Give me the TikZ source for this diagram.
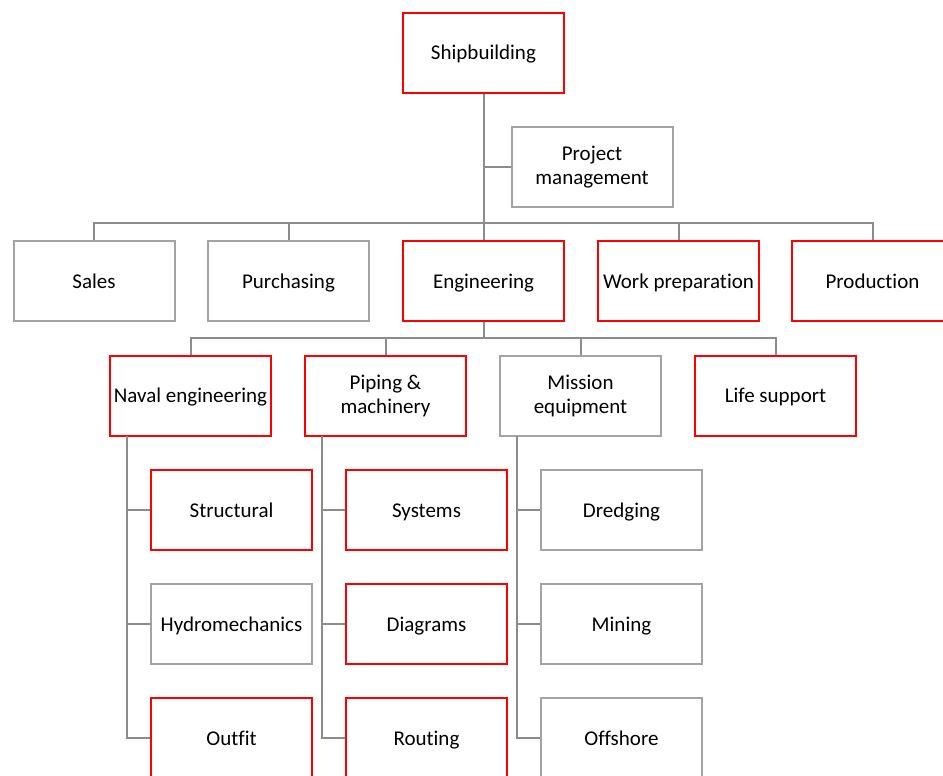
\documentclass[tikz,border=0pt]{standalone}
\usepackage{fontspec}
\setmainfont{Carlito}[Ligatures=NoCommon]
\begin{document}
\begin{tikzpicture}[x=1pt,y=-1pt,
  basebox/.style={draw, line width=2pt, fill=white, minimum width=161pt, minimum height=80pt, inner sep=0pt, align=center, font=\fontsize{21}{24}\selectfont},
  box/.style={basebox, text height=16pt, text depth=2pt},
  rbox/.style={box, draw=red},
  gbox/.style={box, draw=black!36},
  rbox2/.style={basebox, draw=red},
  gbox2/.style={basebox, draw=black!36},
  conn/.style={draw=black!45, line width=2pt}]
\useasboundingbox (0,0) rectangle (943,776);
\clip (0,0) rectangle (943,776);
% top
\node[rbox] (ship) at (483.5,53) {Shipbuilding};
\node[gbox2] (pm) at (592,167) {Project\\management};
% row 2
\node[gbox] (sales) at (94,281) {Sales};
\node[gbox] (purch) at (288.5,281) {Purchasing};
\node[rbox] (eng) at (483.5,281) {Engineering};
\node[rbox] (work) at (678.5,281) {Work preparation};
\node[rbox] (prod) at (872.5,281) {Production};
% row 3
\node[rbox] (naval) at (190.5,395.5) {Naval engineering};
\node[rbox2] (piping) at (385.5,395.5) {Piping \&\\machinery};
\node[gbox2] (mission) at (580.5,395.5) {Mission\\equipment};
\node[rbox] (life) at (775.5,395.5) {Life support};
% subs
\node[rbox] (struct) at (231.5,510) {Structural};
\node[gbox] (hydro) at (231.5,624) {Hydromechanics};
\node[rbox] (outfit) at (231.5,738) {Outfit};
\node[rbox] (systems) at (426.5,510) {Systems};
\node[rbox] (diagrams) at (426.5,624) {Diagrams};
\node[rbox] (routing) at (426.5,738) {Routing};
\node[gbox] (dredging) at (621.5,510) {Dredging};
\node[gbox] (mining) at (621.5,624) {Mining};
\node[gbox] (offshore) at (621.5,738) {Offshore};
% connectors
\coordinate (bus1) at (483.5,223);
\coordinate (bus2) at (483.5,338);
\coordinate (sp1) at (127,436);
\coordinate (sp2) at (322,436);
\coordinate (sp3) at (517,436);
\path[conn] (ship.south) -- (bus1);
\path[conn] (pm.west) -- (pm.west -| ship.south);
\path[conn] (sales.north) |- (bus1);
\path[conn] (purch.north) |- (bus1);
\path[conn] (eng.north) -- (bus1);
\path[conn] (work.north) |- (bus1);
\path[conn] (prod.north) |- (bus1);
\path[conn] (eng.south) -- (bus2);
\path[conn] (naval.north) |- (bus2);
\path[conn] (piping.north) |- (bus2);
\path[conn] (mission.north) |- (bus2);
\path[conn] (life.north) |- (bus2);
\path[conn] (sp1) |- (struct.west);
\path[conn] (sp1) |- (hydro.west);
\path[conn] (sp1) |- (outfit.west);
\path[conn] (sp2) |- (systems.west);
\path[conn] (sp2) |- (diagrams.west);
\path[conn] (sp2) |- (routing.west);
\path[conn] (sp3) |- (dredging.west);
\path[conn] (sp3) |- (mining.west);
\path[conn] (sp3) |- (offshore.west);
\end{tikzpicture}
\end{document}
